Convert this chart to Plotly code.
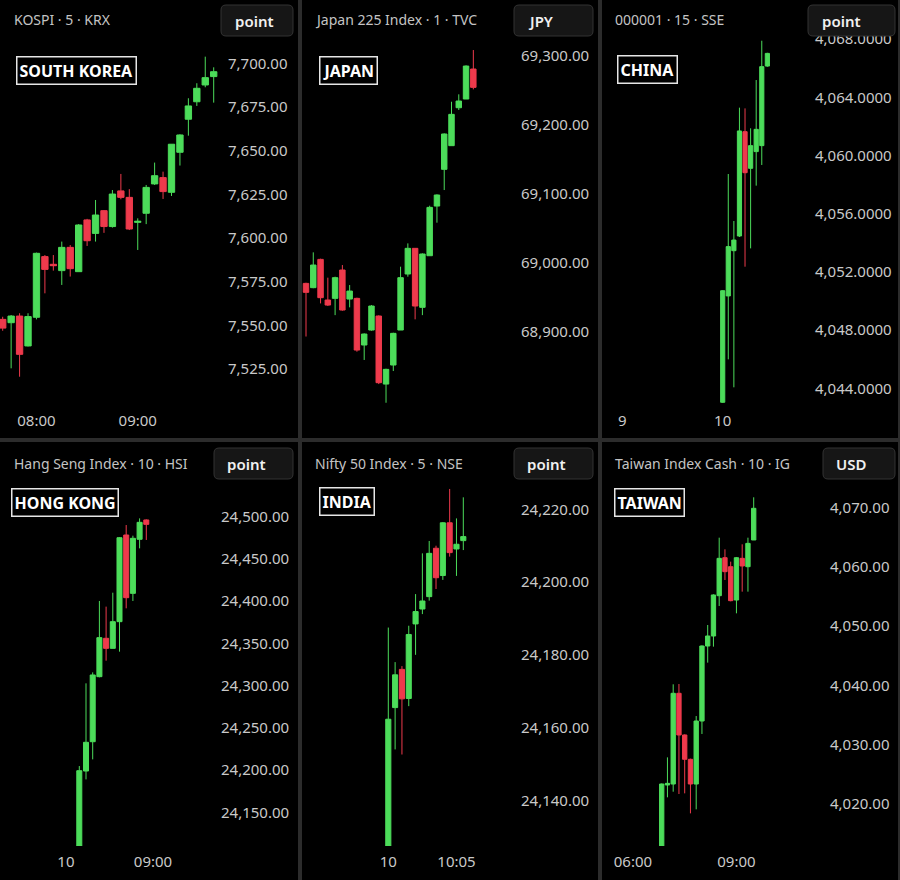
import plotly.graph_objects as go

W, H = 900, 880

# ---------------- data ----------------
# South Korea - KOSPI 5-min
kospi_open = [7553.5, 7551.6, 7555.4, 7538.3, 7554.7, 7589.4, 7585.0, 7581.4, 7594.7, 7580.8, 7610.4, 7602.7, 7615.7,
              7606.6, 7627.0, 7623.3, 7609.0, 7614.2, 7631.0, 7634.6, 7626.2, 7649.1, 7668.0, 7678.0, 7687.6, 7692.4]
kospi_high = [7555.0, 7556.0, 7557.0, 7557.0, 7591.7, 7590.3, 7590.3, 7598.0, 7596.0, 7608.0, 7611.0, 7621.8, 7616.0,
              7627.5, 7636.7, 7628.0, 7611.3, 7630.4, 7643.2, 7638.0, 7653.7, 7659.4, 7680.0, 7688.6, 7703.8, 7697.7]
kospi_low = [7547.0, 7525.5, 7520.7, 7538.0, 7553.5, 7568.4, 7581.4, 7573.2, 7578.0, 7580.8, 7595.5, 7598.0, 7603.0,
             7606.0, 7622.2, 7604.6, 7593.2, 7608.0, 7630.4, 7622.4, 7624.1, 7641.5, 7658.6, 7675.6, 7686.3, 7677.5]
kospi_close = [7548.5, 7555.4, 7533.5, 7555.1, 7591.3, 7582.1, 7584.2, 7594.7, 7582.5, 7607.5, 7598.5, 7613.2, 7606.6,
               7625.2, 7623.3, 7605.2, 7609.6, 7629.0, 7635.7, 7626.6, 7653.7, 7659.0, 7675.6, 7685.7, 7691.8, 7695.2]
kospi_ticks = [7525, 7550, 7575, 7600, 7625, 7650, 7675, 7700]
kospi_time_pos = [4, 16]
kospi_time_text = ["08:00", "09:00"]

# Japan - Japan 225 1-min
japan_open = [68970, 68963.8, 69004.8, 68945.9, 68948.3, 68989.4, 68947.3, 68948.3, 68880.7, 68902.4, 68922.7, 68824.1,
              68851.7, 68902.4, 68983.6, 69020.8, 68935.3, 69010.1, 69082.1, 69135.3, 69169.6, 69224.6, 69237.2, 69280.7]
japan_high = [68971, 69015, 69005.8, 68978.3, 68979.7, 68996.6, 68967.6, 68949.3, 68897.6, 68938.6, 68923.7, 68846.4,
              68898.5, 68994.2, 69028, 69021, 69013.5, 69082.6, 69099, 69187.4, 69233.3, 69244, 69286, 69308.2]
japan_low = [68893, 68963, 68941, 68937.2, 68924, 68930.4, 68935.3, 68871, 68859, 68901.4, 68824.1, 68797,
             68843, 68902.4, 68979.7, 68917.9, 68924, 69010.1, 69058, 69105.3, 69169.6, 69221.3, 69237.2, 69251.2]
japan_close = [68957, 68996.6, 68949.3, 68938.6, 68978.3, 68931.4, 68958.9, 68873.4, 68896.6, 68937.2, 68826.1, 68845.4,
               68897.6, 68978.3, 69020.8, 68937.2, 69012.6, 69080.2, 69098.1, 69186.5, 69215, 69234.3, 69285, 69254.1]
japan_ticks = [68900, 69000, 69100, 69200, 69300]
japan_time_pos = []
japan_time_text = []

# China - SSE Composite 15-min
china_open = [4043.04, 4050.35, 4053.46, 4054.47, 4061.64, 4059.12, 4060.27, 4060.68, 4066.15]
china_high = [4050.75, 4058.73, 4055.5, 4063.29, 4063.24, 4061.87, 4065.19, 4067.89, 4067.06]
china_low = [4043.0, 4045.99, 4044.07, 4054.4, 4052.36, 4053.62, 4057.93, 4059.35, 4066.1]
china_close = [4050.71, 4053.74, 4054.19, 4061.69, 4058.82, 4060.68, 4061.8, 4066.11, 4067.02]
china_ticks = [4044, 4048, 4052, 4056, 4060, 4064, 4068]
china_time_pos = [-18, 0]
china_time_text = ["9", "10"]

# Hong Kong - Hang Seng 10-min
hk_open = [24110.1, 24198.9, 24233.6, 24310.6, 24356.0, 24344.1, 24375.7, 24478.3, 24409.2, 24473.2, 24496.1]
hk_high = [24204.8, 24302.7, 24315.7, 24400.2, 24393.5, 24410.0, 24475.9, 24490.1, 24477.5, 24498.0, 24496.8]
hk_low = [24110.0, 24189.0, 24212.7, 24309.8, 24329.5, 24344.1, 24340.2, 24391.5, 24400.2, 24462.5, 24472.4]
hk_close = [24199.3, 24232.9, 24312.6, 24356.8, 24344.1, 24375.7, 24475.1, 24404.1, 24474.4, 24493.3, 24490.9]
hk_ticks = [24150, 24200, 24250, 24300, 24350, 24400, 24450, 24500]
hk_time_pos = [-2, 11]
hk_time_text = ["10", "09:00"]

# India - Nifty 50 5-min
india_open = [24127.4, 24165.5, 24176.0, 24168.0, 24188.5, 24192.6, 24196.0, 24209.3, 24201.8, 24216.3, 24209.1, 24211.4]
india_high = [24187.5, 24178.0, 24176.9, 24188.0, 24196.7, 24207.9, 24211.3, 24210.0, 24216.5, 24225.6, 24217.5, 24223.3]
india_low = [24127.0, 24154.0, 24152.6, 24165.9, 24180.0, 24191.2, 24194.9, 24198.1, 24200.6, 24207.0, 24201.7, 24208.8]
india_close = [24162.3, 24174.5, 24167.9, 24185.6, 24191.9, 24194.8, 24207.9, 24201.2, 24216.3, 24208.1, 24210.4, 24212.5]
india_ticks = [24140, 24160, 24180, 24200, 24220]
india_time_pos = [0, 10]
india_time_text = ["10", "10:05"]

# Taiwan - Taiwan Index Cash 10-min
taiwan_open = [4012.85, 4023.15, 4023.32, 4038.64, 4031.6, 4027.49, 4023.32, 4033.96, 4046.63, 4048.32, 4055.13,
               4061.55, 4060.03, 4054.4, 4061.44, 4060.03, 4064.54]
taiwan_high = [4023.4, 4027.82, 4040.16, 4040.21, 4031.7, 4027.6, 4034.8, 4046.74, 4050.18, 4055.36, 4064.93,
               4062.96, 4060.88, 4061.67, 4063.81, 4064.93, 4071.75]
taiwan_low = [4012.8, 4021.07, 4022.02, 4021.63, 4021.74, 4018.36, 4019.04, 4031.77, 4043.82, 4046.52, 4053.39,
              4057.78, 4054.18, 4052.15, 4055.81, 4055.81, 4064.54]
taiwan_close = [4023.32, 4023.43, 4038.64, 4031.6, 4027.49, 4023.32, 4033.96, 4046.63, 4048.32, 4055.25, 4061.44,
                4059.19, 4054.29, 4061.55, 4060.15, 4063.97, 4069.89]
taiwan_ticks = [4020, 4030, 4040, 4050, 4060, 4070]
taiwan_time_pos = [-5, 13]
taiwan_time_text = ["06:00", "09:00"]

titles = ["KOSPI · 5 · KRX", "Japan 225 Index · 1 · TVC", "000001 · 15 · SSE",
          "Hang Seng Index · 10 · HSI", "Nifty 50 Index · 5 · NSE", "Taiwan Index Cash · 10 · IG"]
badges = ["SOUTH KOREA", "JAPAN", "CHINA", "HONG KONG", "INDIA", "TAIWAN"]
units = ["point", "JPY", "point", "point", "point", "USD"]

# ---------------- styling / layout geometry (pixels) ----------------
GREEN = "#4cdc5a"
RED = "#ee3a4c"
TXT = "#c9c9c9"
FONT = "Noto Sans"

panels = [
    dict(o=kospi_open, h=kospi_high, l=kospi_low, c=kospi_close, ticks=kospi_ticks, fmt=",.2f",
         tpos=kospi_time_pos, ttxt=kospi_time_text,
         L=0, R=222, T=0, B=405, p0=2.7, s=8.44, yref=(7700, 63.3, 0.5721)),
    dict(o=japan_open, h=japan_high, l=japan_low, c=japan_close, ticks=japan_ticks, fmt=",.2f",
         tpos=japan_time_pos, ttxt=japan_time_text,
         L=301, R=515, T=0, B=405, p0=306.0, s=7.275, yref=(69300, 55.7, 1.4493)),
    dict(o=china_open, h=china_high, l=china_low, c=china_close, ticks=china_ticks, fmt=",.4f",
         tpos=china_time_pos, ttxt=china_time_text,
         L=601, R=809, T=0, B=405, p0=722.7, s=5.583, yref=(4064, 97.33, 0.06873)),
    dict(o=hk_open, h=hk_high, l=hk_low, c=hk_close, ticks=hk_ticks, fmt=",.2f",
         tpos=hk_time_pos, ttxt=hk_time_text,
         L=0, R=215, T=441, B=846, p0=79.3, s=6.7, yref=(24500, 516.67, 1.1838)),
    dict(o=india_open, h=india_high, l=india_low, c=india_close, ticks=india_ticks, fmt=",.2f",
         tpos=india_time_pos, ttxt=india_time_text,
         L=301, R=515, T=441, B=846, p0=388.3, s=6.818, yref=(24220, 509.33, 0.2749)),
    dict(o=taiwan_open, h=taiwan_high, l=taiwan_low, c=taiwan_close, ticks=taiwan_ticks, fmt=",.2f",
         tpos=taiwan_time_pos, ttxt=taiwan_time_text,
         L=601, R=824, T=441, B=846, p0=661.7, s=5.75, yref=(4070, 507.67, 0.16893)),
]

fig = go.Figure()
layout = dict(
    width=W, height=H, margin=dict(l=0, r=0, t=0, b=0),
    paper_bgcolor="#000000", plot_bgcolor="#000000",
    showlegend=False, boxgap=0.25, boxgroupgap=0.0,
    font=dict(family=FONT, color=TXT, size=15),
    hovermode=False,
)

for i, p in enumerate(panels):
    k = "" if i == 0 else str(i + 1)
    n = len(p["o"])
    xs = list(range(n))
    fig.add_trace(go.Candlestick(
        x=xs, open=p["o"], high=p["h"], low=p["l"], close=p["c"],
        xaxis="x" + k, yaxis="y" + k,
        increasing=dict(line=dict(color=GREEN, width=1), fillcolor=GREEN),
        decreasing=dict(line=dict(color=RED, width=1), fillcolor=RED),
        whiskerwidth=0, hoverinfo="skip",
    ))
    # axis ranges from the pixel geometry of the original panels
    x_lo = (p["L"] - p["p0"]) / p["s"]
    x_hi = (p["R"] - p["p0"]) / p["s"]
    v0, py0, per = p["yref"]
    y_top = v0 + (py0 - p["T"]) * per
    y_bot = v0 - (p["B"] - py0) * per
    layout["xaxis" + k] = dict(
        domain=[p["L"] / W, p["R"] / W], range=[x_lo, x_hi], anchor="y" + k,
        showgrid=False, zeroline=False, showline=False, ticks="",
        tickmode="array", tickvals=p["tpos"], ticktext=p["ttxt"],
        tickfont=dict(family=FONT, size=15, color=TXT), ticklabelstandoff=5,
        rangeslider=dict(visible=False), fixedrange=True,
    )
    layout["yaxis" + k] = dict(
        domain=[1 - p["B"] / H, 1 - p["T"] / H], range=[y_bot, y_top], anchor="x" + k,
        side="right", showgrid=False, zeroline=False, showline=False, ticks="",
        tickmode="array", tickvals=p["ticks"], tickformat=p["fmt"],
        tickfont=dict(family=FONT, size=15, color=TXT), ticklabelstandoff=5, fixedrange=True,
    )

fig.update_layout(**layout)

# ---------------- decorations ----------------
def px(x):
    return x / W


def py(y):
    return 1 - y / H


def rounded_rect(x0, y0, x1, y1, r):
    pts = [
        f"M {px(x0 + r)},{py(y0)}", f"L {px(x1 - r)},{py(y0)}", f"Q {px(x1)},{py(y0)} {px(x1)},{py(y0 + r)}",
        f"L {px(x1)},{py(y1 - r)}", f"Q {px(x1)},{py(y1)} {px(x1 - r)},{py(y1)}",
        f"L {px(x0 + r)},{py(y1)}", f"Q {px(x0)},{py(y1)} {px(x0)},{py(y1 - r)}",
        f"L {px(x0)},{py(y0 + r)}", f"Q {px(x0)},{py(y0)} {px(x0 + r)},{py(y0)}", "Z",
    ]
    return " ".join(pts)


shapes = []
# panel separators
sep = "#2c2c2c"
for xv in (300, 600):
    shapes.append(dict(type="line", xref="paper", yref="paper", x0=px(xv), x1=px(xv), y0=0, y1=1,
                       line=dict(color=sep, width=4), layer="above"))
shapes.append(dict(type="line", xref="paper", yref="paper", x0=0, x1=1, y0=py(440), y1=py(440),
                   line=dict(color=sep, width=4), layer="above"))
shapes.append(dict(type="line", xref="paper", yref="paper", x0=px(899), x1=px(899), y0=0, y1=1,
                   line=dict(color=sep, width=2), layer="above"))

# unit buttons (x0, y0, x1, y1, text x)
buttons = [(221, 5, 293, 36, 233), (514, 5, 593, 36, 526), (808, 5, 895, 36, 820),
           (214, 448, 293, 479, 225), (514, 448, 593, 479, 525), (823, 448, 895, 479, 834)]
annotations = []
for i, (x0, y0, x1, y1, tx) in enumerate(buttons):
    shapes.append(dict(type="path", xref="paper", yref="paper", path=rounded_rect(x0, y0, x1, y1, 5),
                       fillcolor="#161616", line=dict(color="#333333", width=1), layer="above"))
    annotations.append(dict(xref="paper", yref="paper", x=px(tx), y=py((y0 + y1) / 2), text=units[i],
                            showarrow=False, xanchor="left", yanchor="middle",
                            font=dict(family=FONT, size=15, color="#f0f0f0", weight=600)))

# titles
title_pos = [(12, 19), (313, 19), (613, 19), (12, 463), (313, 463), (613, 463)]
for t, (x, y) in zip(titles, title_pos):
    annotations.append(dict(xref="paper", yref="paper", x=px(x), y=py(y), text=t, showarrow=False,
                            xanchor="left", yanchor="middle", font=dict(family=FONT, size=14, color="#c4c4c4")))

# country badges (box left, box top)
badge_pos = [(16, 56), (319, 56), (617, 55), (11, 488), (319, 487), (614, 488)]
for b, (x, y) in zip(badges, badge_pos):
    annotations.append(dict(xref="paper", yref="paper", x=px(x), y=py(y), text=f"<b>{b}</b>", showarrow=False,
                            xanchor="left", yanchor="top", bgcolor="#000000", bordercolor="#e6e6e6",
                            borderwidth=1.5, borderpad=2,
                            font=dict(family=FONT, size=16, color="#ffffff")))

fig.update_layout(shapes=shapes, annotations=annotations)
fig.write_html("out.html")
